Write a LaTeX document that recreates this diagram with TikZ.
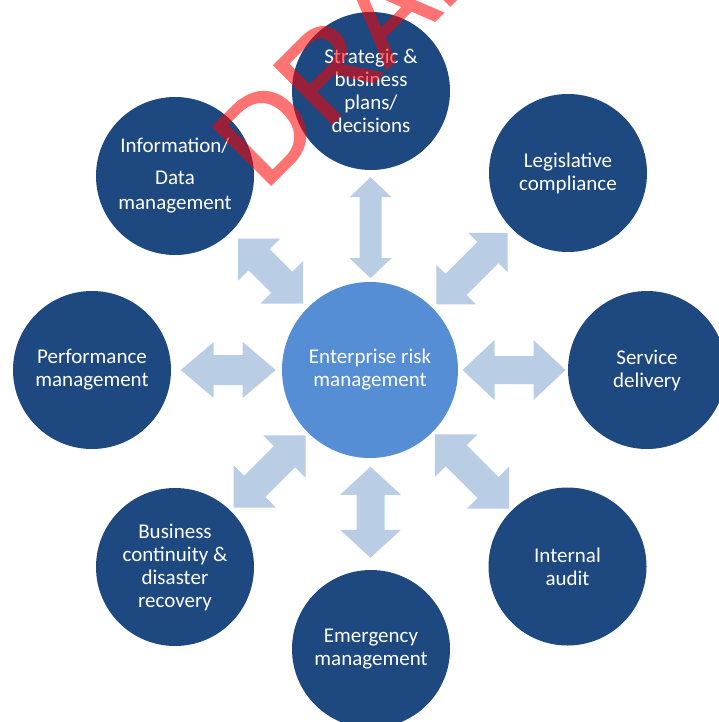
\documentclass[tikz,border=0pt]{standalone}
\usepackage{fontspec}
\setmainfont{Carlito}
\newfontfamily\markfont[FakeBold=1.4]{Liberation Sans}
\usetikzlibrary{calc}

\definecolor{navy}{RGB}{30,72,128}
\definecolor{hub}{RGB}{85,142,213}
\definecolor{arrowfill}{RGB}{185,205,229}

\tikzset{
  topic/.style={circle, fill=navy, text=white, inner sep=-6pt, minimum size=158pt,
    align=center, font=\fontsize{21}{23}\selectfont},
  core/.style={circle, fill=hub, text=white, inner sep=-6pt, minimum size=176pt,
    align=center, font=\fontsize{21}{23}\selectfont},
  % double-headed block arrow: total length, head width, shaft width, head length
  pics/blockarrow/.style n args={4}{code={
    \fill[arrowfill]
      ({-#1/2},0) -- ({-#1/2+#4},{#2/2}) -- ({-#1/2+#4},{#3/2})
      -- ({#1/2-#4},{#3/2}) -- ({#1/2-#4},{#2/2}) -- ({#1/2},0)
      -- ({#1/2-#4},{-#2/2}) -- ({#1/2-#4},{-#3/2}) -- ({-#1/2+#4},{-#3/2})
      -- ({-#1/2+#4},{-#2/2}) -- cycle;
  }},
  watermark/.style={text=red, inner sep=0pt,
    font=\markfont\fontsize{120}{120}\selectfont}
}

\begin{document}
\begin{tikzpicture}[x=1pt, y=-1pt]
\useasboundingbox (0,0) rectangle (719,722);

% hub and surrounding topics
\node[core]  (erm)    at (370,370)     {Enterprise risk\\management};
\node[topic] (strat)  at (371,91)      {Strategic \&\\business\\plans/\\decisions};
\node[topic] (info)   at (175,176)     {Information/\\[9pt]Data\\[2pt]management};
\node[topic] (legis)  at (568,173)     {Legislative\\compliance};
\node[topic] (perf)   at (92,370)      {Performance\\management};
\node[topic] (serv)   at (647,370)     {Service\\delivery};
\node[topic] (bus)    at (175,567)     {Business\\continuity \&\\disaster\\recovery};
\node[topic] (audit)  at (567.5,566.5) {Internal\\audit};
\node[topic] (emerg)  at (371,649)     {Emergency\\management};

% two-way links between the hub and each topic
\pic[rotate=90]  at ($(erm)!0.51!(strat)$) {blockarrow={101}{42}{22}{20}};
\pic[rotate=90]  at ($(erm)!0.51!(emerg)$) {blockarrow={91}{61}{28}{28}};
\pic             at ($(erm)!0.51!(perf)$)  {blockarrow={95}{56}{30}{33}};
\pic             at ($(erm)!0.52!(serv)$)  {blockarrow={103}{60}{28}{32}};
\pic[rotate=-45] at ($(erm)!0.51!(info)$)  {blockarrow={92}{60}{30}{30}};
\pic[rotate=45]  at ($(erm)!0.515!(legis)$) {blockarrow={101}{56}{30}{28}};
\pic[rotate=45]  at ($(erm)!0.515!(bus)$)  {blockarrow={102}{60}{30}{30}};
\pic[rotate=-45] at ($(erm)!0.517!(audit)$) {blockarrow={105}{60}{30}{30}};

% stamp across the top, faded as a whole
\begin{scope}[transparency group, opacity=0.55]
  \node[watermark, anchor=base west, rotate=45] (stamp) at (264,192) {DRAFT};
\end{scope}
\end{tikzpicture}
\end{document}
